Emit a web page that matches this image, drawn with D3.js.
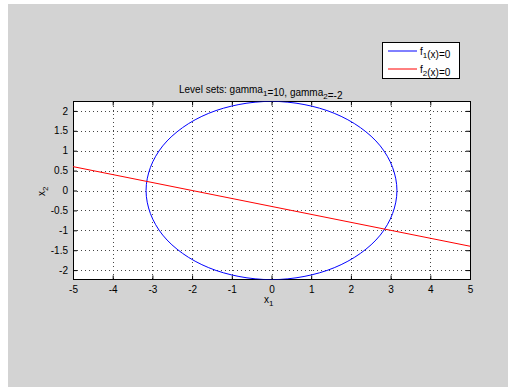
<!DOCTYPE html>
<html>
<head>
<meta charset="utf-8">
<script src="https://cdn.jsdelivr.net/npm/d3@7"></script>
<style>
  body { margin: 0; background: #fff; }
  svg text { font-family: "Liberation Sans", Arial, Helvetica, sans-serif; fill: #000; }
  .grid line { stroke: #444; stroke-width: 1; stroke-dasharray: 1,3; shape-rendering: crispEdges; }
</style>
</head>
<body>
<svg id="fig" width="508" height="388"></svg>
<script>
// ellipse f1(x)=0, points
let ellipseX1 = [3.16, 3.05, 2.74, 2.24, 1.58, 0.82, 0, -0.82, -1.58, -2.24, -2.74, -3.05,
                 -3.16, -3.05, -2.74, -2.24, -1.58, -0.82, 0, 0.82, 1.58, 2.24, 2.74, 3.05];
let ellipseX2 = [0, 0.58, 1.12, 1.58, 1.94, 2.16, 2.24, 2.16, 1.94, 1.58, 1.12, 0.58,
                 0, -0.58, -1.12, -1.58, -1.94, -2.16, -2.24, -2.16, -1.94, -1.58, -1.12, -0.58];
// straight line f2(x)=0
let lineX1 = [-5, 5];
let lineX2 = [0.6, -1.4];

let xTicks = [-5, -4, -3, -2, -1, 0, 1, 2, 3, 4, 5];
let yTicks = [-2, -1.5, -1, -0.5, 0, 0.5, 1, 1.5, 2];
let xDomain = [-5, 5];
let yDomain = [-2.236, 2.236];

let seriesNames = ["f", "f"];
let seriesSubs = ["1", "2"];
let seriesColors = ["#0000ff", "#ff0000"];

let svg = d3.select("#fig");

// figure background
svg.append("rect")
  .attr("x", 8).attr("y", 4)
  .attr("width", 500).attr("height", 383)
  .attr("fill", "#d3d3d3");

let pLeft = 73, pRight = 470, pTop = 101.5, pBottom = 279.5;

let x = d3.scaleLinear().domain(xDomain).range([pLeft, pRight]);
let y = d3.scaleLinear().domain(yDomain).range([pBottom, pTop]);

// axes box
svg.append("rect")
  .attr("x", pLeft).attr("y", pTop)
  .attr("width", pRight - pLeft).attr("height", pBottom - pTop)
  .attr("fill", "#fff");

svg.append("defs").append("clipPath").attr("id", "clip")
  .append("rect")
  .attr("x", pLeft).attr("y", pTop)
  .attr("width", pRight - pLeft).attr("height", pBottom - pTop);

// dotted grid
let grid = svg.append("g").attr("class", "grid");
grid.selectAll("line.vx")
  .data(xTicks.slice(1, -1))
  .enter().append("line")
  .attr("x1", d => Math.round(x(d)) + 0.5).attr("x2", d => Math.round(x(d)) + 0.5)
  .attr("y1", pTop).attr("y2", pBottom);
grid.selectAll("line.hy")
  .data(yTicks)
  .enter().append("line")
  .attr("y1", d => Math.round(y(d)) + 0.5).attr("y2", d => Math.round(y(d)) + 0.5)
  .attr("x1", pLeft).attr("x2", pRight);

// axes with inside ticks on all four sides
let fmt = d => String(d);
let tickLen = 4;
let axB = svg.append("g").attr("transform", `translate(0,${pBottom})`)
  .call(d3.axisBottom(x).tickValues(xTicks).tickSize(-tickLen).tickPadding(6).tickFormat(fmt));
let axT = svg.append("g").attr("transform", `translate(0,${pTop})`)
  .call(d3.axisTop(x).tickValues(xTicks).tickSize(-tickLen).tickFormat(""));
let axL = svg.append("g").attr("transform", `translate(${pLeft},0)`)
  .call(d3.axisLeft(y).tickValues(yTicks).tickSize(-tickLen).tickPadding(5).tickFormat(fmt));
let axR = svg.append("g").attr("transform", `translate(${pRight},0)`)
  .call(d3.axisRight(y).tickValues(yTicks).tickSize(-tickLen).tickFormat(""));

[axB, axT, axL, axR].forEach(a => {
  a.select(".domain").remove();
  a.selectAll("line").attr("stroke", "#000");
  a.selectAll("text")
    .style("font-family", "'Liberation Sans', Arial, sans-serif")
    .style("font-size", "10px")
    .attr("fill", "#000");
});

svg.append("rect")
  .attr("x", pLeft + 0.5).attr("y", pTop)
  .attr("width", pRight - pLeft).attr("height", pBottom - pTop)
  .attr("fill", "none").attr("stroke", "#000").attr("stroke-width", 1);

// curves
let plot = svg.append("g").attr("clip-path", "url(#clip)");

let ellipsePts = ellipseX1.map((v, i) => [v, ellipseX2[i]]);
let ellipseGen = d3.line()
  .x(d => x(d[0]))
  .y(d => y(d[1]))
  .curve(d3.curveCatmullRomClosed.alpha(0.5));
plot.append("path")
  .datum(ellipsePts)
  .attr("d", ellipseGen)
  .attr("fill", "none")
  .style("stroke", seriesColors[0])
  .attr("stroke-width", 1);

let linePts = lineX1.map((v, i) => [v, lineX2[i]]);
plot.append("path")
  .datum(linePts)
  .attr("d", d3.line().x(d => x(d[0])).y(d => y(d[1])))
  .attr("fill", "none")
  .style("stroke", seriesColors[1])
  .attr("stroke-width", 1);

// helper for text with a subscript
function subText(g, xPos, yPos, parts, size, anchor) {
  let t = g.append("text")
    .attr("x", xPos).attr("y", yPos)
    .attr("text-anchor", anchor || "start")
    .style("font-size", size + "px");
  parts.forEach(p => {
    if (p.sub) {
      t.append("tspan").attr("dy", 3).style("font-size", (size - 2) + "px").text(p.sub);
      t.append("tspan").attr("dy", -3).text("");
    } else {
      t.append("tspan").text(p.t);
    }
  });
  return t;
}

// title
subText(svg, 179, 93, [
  {t: "Level sets: gamma"}, {sub: "1"}, {t: "=10, gamma"}, {sub: "2"}, {t: "=-2"}
], 10);

// axis labels
subText(svg, 264, 303, [{t: "x"}, {sub: "1"}], 10);
let yl = svg.append("g").attr("transform", "translate(45,196) rotate(-90)");
subText(yl, 0, 0, [{t: "x"}, {sub: "2"}], 10);

// legend
let lg = svg.append("g");
lg.append("rect")
  .attr("x", 382.5).attr("y", 42.5)
  .attr("width", 77).attr("height", 36)
  .attr("fill", "#fff").attr("stroke", "#000");
[51, 69].forEach((ly, i) => {
  lg.append("line")
    .attr("x1", 388).attr("x2", 417)
    .attr("y1", ly).attr("y2", ly)
    .style("stroke", seriesColors[i])
    .attr("stroke-width", 1);
  subText(lg, 420, ly + 3.5, [{t: seriesNames[i]}, {sub: seriesSubs[i]}, {t: "(x)=0"}], 10);
});
</script>
</body>
</html>
